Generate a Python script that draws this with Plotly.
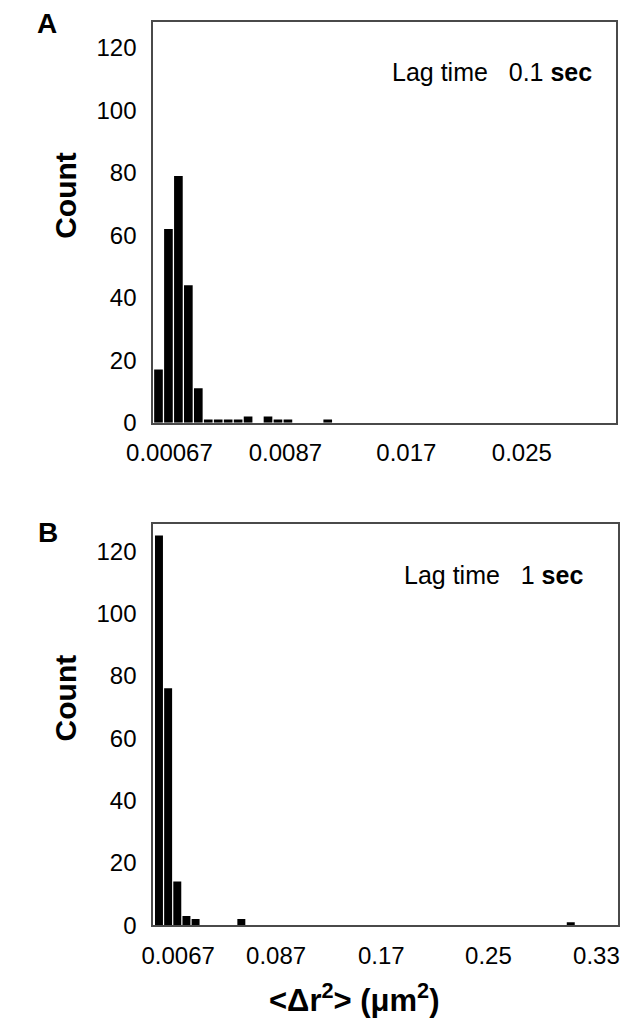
import plotly.graph_objects as go

# Panel A: lag time 0.1 s (histogram bins, index of bin, width 0.00067 µm²)
counts_a = [17, 62, 79, 44, 11, 1, 1, 1, 1, 2, 0, 2, 1, 1, 0, 0, 0, 1]
ticks_a_pos = [1.1, 12.75, 24.9, 36.5]
ticks_a_text = ["0.00067", "0.0087", "0.017", "0.025"]

# Panel B: lag time 1 s (bin width 0.0067 µm²)
counts_b = [125, 76, 14, 3, 2, 0, 0, 0, 0, 2] + [0] * 35 + [1]
ticks_b_pos = [2.1, 12.8, 24.3, 36.0, 47.8]
ticks_b_text = ["0.0067", "0.087", "0.17", "0.25", "0.33"]

y_ticks = [0, 20, 40, 60, 80, 100, 120]

W, H = 626, 1036
FONT = "Liberation Sans, Arial, sans-serif"


def px_x(p):
    return p / W


def px_y(p):
    return 1 - p / H


fig = go.Figure()
fig.add_trace(go.Bar(x=list(range(len(counts_a))), y=counts_a, xaxis="x", yaxis="y",
                     marker=dict(color="black", line=dict(width=0)), showlegend=False))
fig.add_trace(go.Bar(x=list(range(len(counts_b))), y=counts_b, xaxis="x2", yaxis="y2",
                     marker=dict(color="black", line=dict(width=0)), showlegend=False))

axis_common = dict(showline=True, mirror=True, linecolor="#4a4a4a", linewidth=2,
                   showgrid=False, zeroline=False, ticks="",
                   tickfont=dict(family=FONT, size=24, color="black"))

fig.update_layout(
    width=W, height=H,
    margin=dict(l=0, r=0, t=0, b=0),
    paper_bgcolor="white", plot_bgcolor="white",
    bargap=0.13,
    font=dict(family=FONT, color="black"),
    xaxis=dict(domain=[px_x(132), px_x(616)], range=[-0.52, 46.0], anchor="y",
               tickmode="array", tickvals=ticks_a_pos, ticktext=ticks_a_text,
               ticklabelstandoff=8, **axis_common),
    yaxis=dict(domain=[px_y(428), px_y(22)], range=[0, 128.4], anchor="x",
               tickmode="array", tickvals=y_ticks, ticklabelstandoff=10, **axis_common),
    xaxis2=dict(domain=[px_x(132), px_x(618)], range=[-0.62, 50.2], anchor="y2",
                tickmode="array", tickvals=ticks_b_pos, ticktext=ticks_b_text,
                ticklabelstandoff=8, **axis_common),
    yaxis2=dict(domain=[px_y(937), px_y(531)], range=[0, 128.6], anchor="x2",
                tickmode="array", tickvals=y_ticks, ticklabelstandoff=10, **axis_common),
)


def note(text, x, y, size, xanchor="center", angle=0):
    return dict(text=text, x=px_x(x), y=px_y(y), xref="paper", yref="paper",
                xanchor=xanchor, yanchor="middle", showarrow=False, textangle=angle,
                font=dict(size=size, family=FONT, color="black"))


ann = [
    note("<b>A</b>", 21, 24, 28),
    note("<b>B</b>", 22, 539, 28),
    note("<b>Count</b>", 40, 198, 30, angle=-90),
    note("<b>Count</b>", 40, 707, 30, angle=-90),
    note("Lag time&nbsp;&nbsp;&nbsp;0.1 <b>sec</b>", 593, 73, 25, xanchor="right"),
    note("Lag time&nbsp;&nbsp;&nbsp;1 <b>sec</b>", 583, 582, 25, xanchor="right"),
    note("<b>&lt;Δr<sup>2</sup>&gt; (μm<sup>2</sup>)</b>", 342, 1011, 31),
]
fig.update_layout(annotations=ann)

fig.write_html(
    "out.html",
    config={"displayModeBar": False},
    post_script="document.body.style.margin='0';document.body.style.overflow='hidden';",
)
